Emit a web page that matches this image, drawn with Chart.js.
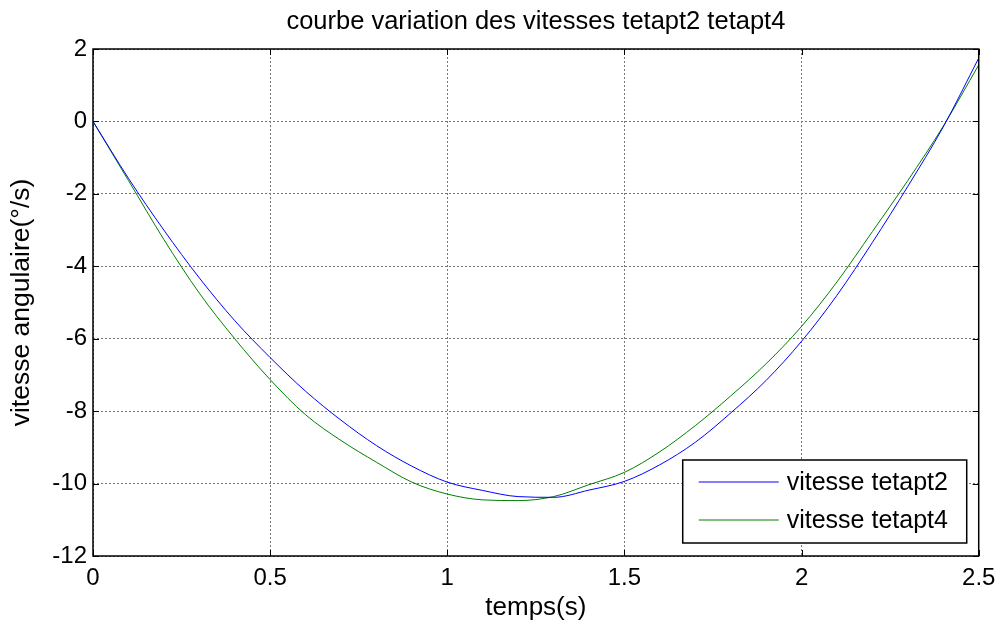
<!DOCTYPE html>
<html>
<head>
<meta charset="utf-8">
<title>courbe variation des vitesses</title>
<script src="https://cdn.jsdelivr.net/npm/chart.js"></script>
<style>
  html, body { margin: 0; padding: 0; background: #fff; }
  #wrap { width: 1003px; height: 633px; }
</style>
</head>
<body>
<div id="wrap"><canvas id="vitChart" width="1003" height="633"></canvas></div>
<script>
// time samples (s) and the two angular speeds
const temps = [0, 0.1, 0.2, 0.3, 0.4, 0.5, 0.6, 0.7, 0.8, 0.9, 1.0, 1.1, 1.2,
  1.3, 1.4, 1.5, 1.6, 1.7, 1.8, 1.9, 2.0, 2.1, 2.2, 2.3, 2.4, 2.5];
const tetapt2 = [0, -1.57, -3.0, -4.32, -5.5, -6.52, -7.45, -8.25, -8.95, -9.52,
  -9.96, -10.19, -10.36, -10.38, -10.18, -9.94, -9.48, -8.86, -8.05, -7.15,
  -6.07, -4.8, -3.34, -1.79, -0.15, 1.75];
const tetapt4 = [0, -1.63, -3.26, -4.74, -6.0, -7.13, -8.1, -8.81, -9.41, -9.96,
  -10.29, -10.45, -10.47, -10.36, -10.03, -9.69, -9.12, -8.40, -7.58, -6.69,
  -5.66, -4.43, -3.04, -1.63, -0.13, 1.56];
const seriesNames = ['vitesse tetapt2', 'vitesse tetapt4'];

const xTickLabels = ['0', '0.5', '1', '1.5', '2', '2.5'];
const yTickLabels = ['-12', '-10', '-8', '-6', '-4', '-2', '0', '2'];

const FONT = "'Liberation Sans', Arial, sans-serif";

// box around the axes + inward tick marks + legend inside the plot (matlab style)
const matlabFrame = {
  id: 'matlabFrame',
  afterDraw(chart) {
    const ctx = chart.ctx;
    const a = chart.chartArea;
    const xs = chart.scales.x, ys = chart.scales.y;
    ctx.save();
    ctx.strokeStyle = '#000';
    ctx.lineWidth = 1.5;
    ctx.strokeRect(a.left, a.top, a.right - a.left, a.bottom - a.top);

    ctx.lineWidth = 1;
    ctx.beginPath();
    xs.ticks.forEach(t => {
      const px = Math.round(xs.getPixelForValue(t.value)) + 0.5;
      ctx.moveTo(px, a.bottom); ctx.lineTo(px, a.bottom - 6);
      ctx.moveTo(px, a.top); ctx.lineTo(px, a.top + 6);
    });
    ys.ticks.forEach(t => {
      const py = Math.round(ys.getPixelForValue(t.value)) + 0.5;
      ctx.moveTo(a.left, py); ctx.lineTo(a.left + 6, py);
      ctx.moveTo(a.right, py); ctx.lineTo(a.right - 6, py);
    });
    ctx.stroke();

    // legend box
    const w = 284, h = 83;
    const lx = a.right - 12 - w, ly = a.bottom - 13 - h;
    ctx.fillStyle = '#fff';
    ctx.fillRect(lx, ly, w, h);
    ctx.lineWidth = 1.5;
    ctx.strokeRect(lx, ly, w, h);
    ctx.font = '25px ' + FONT;
    ctx.textBaseline = 'middle';
    chart.data.datasets.forEach((ds, i) => {
      const y = ly + 22 + i * 38;
      ctx.strokeStyle = ds.borderColor;
      ctx.lineWidth = 1;
      ctx.beginPath();
      ctx.moveTo(lx + 16, y); ctx.lineTo(lx + 96, y);
      ctx.stroke();
      ctx.fillStyle = '#000';
      ctx.fillText(ds.label, lx + 104, y + 1);
    });
    ctx.restore();
  }
};

const chart = new Chart(document.getElementById('vitChart'), {
  type: 'line',
  data: {
    datasets: [
      {
        label: seriesNames[0],
        data: temps.map((t, i) => ({ x: t, y: tetapt2[i] })),
        borderColor: '#0000ff',
        borderWidth: 1,
        pointRadius: 0,
        cubicInterpolationMode: 'monotone',
        fill: false
      },
      {
        label: seriesNames[1],
        data: temps.map((t, i) => ({ x: t, y: tetapt4[i] })),
        borderColor: '#008000',
        borderWidth: 1,
        pointRadius: 0,
        cubicInterpolationMode: 'monotone',
        fill: false
      }
    ]
  },
  options: {
    responsive: false,
    animation: false,
    layout: { padding: { left: 0, right: 24, top: 0, bottom: 0 } },
    plugins: {
      legend: { display: false },
      tooltip: { enabled: false },
      title: {
        display: true,
        fullSize: false,
        text: 'courbe variation des vitesses tetapt2 tetapt4',
        color: '#000',
        font: { family: FONT, size: 25.5, weight: 'normal', lineHeight: 1.2 },
        padding: { top: 7, bottom: 11.4 }
      }
    },
    scales: {
      x: {
        type: 'linear',
        min: 0,
        max: 2.5,
        afterFit(scale) { scale.height = 77; },
        ticks: {
          stepSize: 0.5,
          padding: 7.6,
          color: '#000',
          font: { family: FONT, size: 24 },
          callback: (v, i) => xTickLabels[i]
        },
        grid: { color: '#777', lineWidth: 1, drawTicks: false },
        border: { display: false, dash: [2, 2] },
        title: {
          display: true,
          text: 'temps(s)',
          color: '#000',
          font: { family: FONT, size: 26 },
          padding: { top: 0, bottom: 9.4 }
        }
      },
      y: {
        min: -12,
        max: 2,
        afterFit(scale) { scale.width = 93; },
        ticks: {
          stepSize: 2,
          padding: 6,
          color: '#000',
          font: { family: FONT, size: 24 },
          callback: (v, i) => yTickLabels[i]
        },
        grid: { color: '#777', lineWidth: 1, drawTicks: false },
        border: { display: false, dash: [2, 2] },
        title: {
          display: true,
          text: 'vitesse angulaire(°/s)',
          color: '#000',
          font: { family: FONT, size: 26.5 },
          padding: { top: 6.1, bottom: 0 }
        }
      }
    }
  },
  plugins: [matlabFrame]
});
</script>
</body>
</html>
